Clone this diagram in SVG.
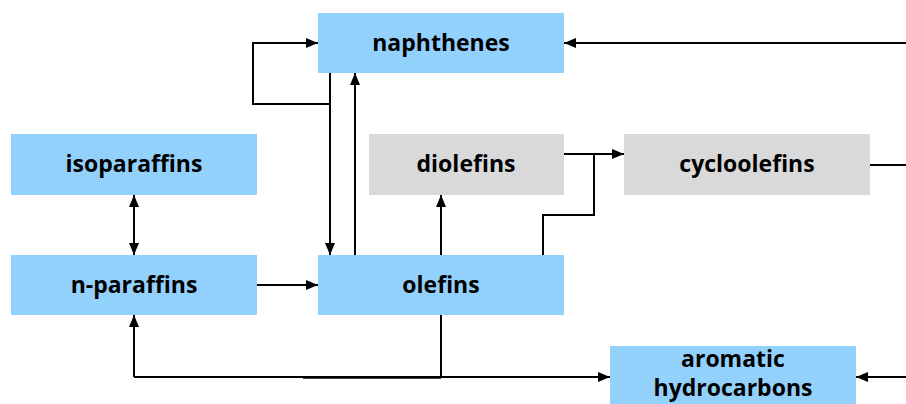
<svg xmlns="http://www.w3.org/2000/svg" width="906" height="404" viewBox="0 0 906 404">
<style>
.b{fill:#93D1FD}
.g{fill:#D9D9D9}
text{font-family:"Open Sans","Liberation Sans",sans-serif;font-weight:bold;font-size:23px;fill:#000;text-anchor:middle}
.c path{fill:none;stroke:#000;stroke-width:2}
</style>
<defs>
<marker id="a" viewBox="0 0 12 10" refX="12" refY="5" markerWidth="12" markerHeight="10" markerUnits="userSpaceOnUse" orient="auto-start-reverse">
<path d="M0,0L12,5L0,10Z" fill="#000"/>
</marker>
</defs>
<rect width="906" height="404" fill="#fff"/>
<g id="naphthenes"><rect class="b" x="318" y="13" width="246" height="60"/><text x="441" y="51">naphthenes</text></g>
<g id="isoparaffins"><rect class="b" x="11" y="134" width="246" height="61"/><text x="134" y="172">isoparaffins</text></g>
<g id="diolefins"><rect class="g" x="369" y="134" width="195" height="61"/><text x="466" y="172">diolefins</text></g>
<g id="cycloolefins"><rect class="g" x="624" y="134" width="246" height="61"/><text x="747" y="172">cycloolefins</text></g>
<g id="n-paraffins"><rect class="b" x="11" y="255" width="246" height="60"/><text x="134" y="293">n-paraffins</text></g>
<g id="olefins"><rect class="b" x="318" y="255" width="246" height="60"/><text x="441" y="293">olefins</text></g>
<g id="aromatic"><rect class="b" x="610" y="346" width="246" height="62"/><text x="733" y="367">aromatic</text><text x="733" y="396">hydrocarbons</text></g>
<g class="c">
<path d="M906,43H564" marker-end="url(#a)"/>
<path d="M330,73V255" marker-end="url(#a)"/>
<path d="M330,104H253V43H318" marker-end="url(#a)"/>
<path d="M355,255V73" marker-end="url(#a)"/>
<path d="M441,255V195" marker-end="url(#a)"/>
<path d="M564,154H624" marker-end="url(#a)"/>
<path d="M543,255V215H594V154"/>
<path d="M870,165H906"/>
<path d="M134,195V255" marker-start="url(#a)" marker-end="url(#a)"/>
<path d="M257,285H318" marker-end="url(#a)"/>
<path d="M441,315V377"/>
<path d="M134,377H610" marker-end="url(#a)"/>
<path d="M303,377.8H441"/>
<path d="M134,377V315" marker-end="url(#a)"/>
<path d="M906,377H856" marker-end="url(#a)"/>
</g>
</svg>
